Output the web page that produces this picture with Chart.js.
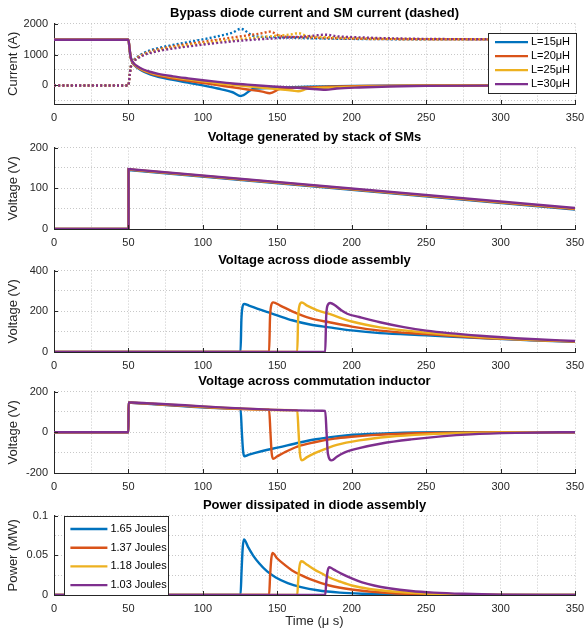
<!DOCTYPE html>
<html>
<head>
<meta charset="utf-8">
<script src="https://cdn.jsdelivr.net/npm/chart.js@4.4.1/dist/chart.umd.min.js"></script>
<style>
  body { margin: 0; background: #fff; }
  #wrap { position: relative; width: 584px; height: 631px; overflow: hidden; }
  .panel { position: absolute; left: 0; width: 584px; }
</style>
</head>
<body>
<div id="wrap">
  <div class="panel" id="p1"><canvas id="c1"></canvas></div>
  <div class="panel" id="p2"><canvas id="c2"></canvas></div>
  <div class="panel" id="p3"><canvas id="c3"></canvas></div>
  <div class="panel" id="p4"><canvas id="c4"></canvas></div>
  <div class="panel" id="p5"><canvas id="c5"></canvas></div>
</div>
<script>
// --- datos ---
const timeTicks = [0, 25, 50, 75, 100, 125, 150, 175, 200, 225, 250, 275, 300, 325, 350];
const timeLabels = [0, 50, 100, 150, 200, 250, 300, 350];

const inductance = ['L=15\u03bcH', 'L=20\u03bcH', 'L=25\u03bcH', 'L=30\u03bcH'];
const energy = ['1.65 Joules', '1.37 Joules', '1.18 Joules', '1.03 Joules'];
const colors = ['#0072BD', '#D95319', '#EDB120', '#7E2F8E'];

const currentTicks = [-500, 0, 500, 1000, 1500, 2000];
const currentLabels = [0, 1000, 2000];
const stackTicks = [0, 50, 100, 150, 200];
const stackLabels = [0, 100, 200];
const diodeVTicks = [0, 100, 200, 300, 400];
const diodeVLabels = [0, 200, 400];
const indTicks = [-200, -100, 0, 100, 200];
const indLabels = [-200, 0, 200];
const powerTicks = [0, 0.025, 0.05, 0.075, 0.1];
const powerLabels = [0, 0.05, 0.1];

// corriente diodo bypass (A), [t, valor]
const iDiode = [
  [[0,1480],[50,1480],[50.8,1150],[51.5,900],[52.5,760],[54,650],[56,570],[60,450],[65,350],[70,280],[80,180],[90,90],[100,0],[110,-100],[120,-220],[125.5,-340],[134,-110],[150,-70],[170,-40],[200,-15],[250,-3],[350,0]],
  [[0,1480],[50,1480],[50.8,1160],[51.5,910],[52.5,770],[54,665],[56,590],[60,475],[65,385],[70,320],[80,225],[90,150],[100,80],[110,10],[120,-60],[130,-130],[140,-200],[145,-250],[152,-110],[165,-70],[185,-40],[210,-15],[260,-3],[350,0]],
  [[0,1480],[50,1480],[50.8,1170],[51.5,920],[52.5,780],[54,680],[56,605],[60,495],[65,410],[70,350],[80,265],[90,195],[100,130],[110,70],[120,20],[130,-30],[140,-75],[150,-120],[160,-165],[164,-190],[170,-110],[185,-70],[205,-40],[230,-15],[280,-3],[350,0]],
  [[0,1480],[50,1480],[50.8,1180],[51.5,930],[52.5,790],[54,695],[56,620],[60,515],[65,435],[70,375],[80,295],[90,230],[100,170],[110,115],[120,65],[130,25],[140,-10],[150,-40],[160,-70],[170,-100],[182.5,-140],[190,-100],[205,-65],[225,-35],[250,-15],[300,-3],[350,0]]
];

// corriente SM (A), punteada
const iSM = [
  [[0,0],[50,0],[50.8,340],[51.5,590],[52.5,730],[54,840],[56,920],[60,1040],[65,1140],[70,1210],[80,1310],[90,1400],[100,1490],[110,1590],[120,1710],[125.5,1830],[134,1600],[150,1560],[170,1530],[200,1505],[250,1493],[350,1490]],
  [[0,0],[50,0],[50.8,330],[51.5,580],[52.5,720],[54,825],[56,900],[60,1015],[65,1105],[70,1170],[80,1265],[90,1340],[100,1410],[110,1480],[120,1550],[130,1620],[140,1690],[145,1740],[152,1600],[165,1560],[185,1530],[210,1505],[260,1493],[350,1490]],
  [[0,0],[50,0],[50.8,320],[51.5,570],[52.5,710],[54,810],[56,885],[60,995],[65,1080],[70,1140],[80,1225],[90,1295],[100,1360],[110,1420],[120,1470],[130,1520],[140,1565],[150,1610],[160,1655],[164,1690],[170,1600],[185,1560],[205,1530],[230,1505],[280,1493],[350,1490]],
  [[0,0],[50,0],[50.8,310],[51.5,560],[52.5,700],[54,795],[56,870],[60,975],[65,1055],[70,1115],[80,1195],[90,1260],[100,1320],[110,1375],[120,1425],[130,1465],[140,1500],[150,1530],[160,1560],[170,1590],[182.5,1640],[190,1590],[205,1555],[225,1525],[250,1505],[300,1493],[350,1490]]
];

// tension del stack de SMs (V)
const vStack = [
  [[0,0],[50,0],[50.1,145],[350,48]],
  [[0,0],[50,0],[50.1,146],[350,49]],
  [[0,0],[50,0],[50.1,146.5],[350,50]],
  [[0,0],[50,0],[50.1,147],[350,51.5]]
];

// tension en el conjunto de diodos (V)
const vDiode = [
  [[0,0],[125.3,0],[125.9,160],[126.6,220],[127.8,236],[131,228],[138,209],[145,192],[150,180],[160,156],[172,135],[185,121],[200,106],[219,93],[250,82],[286,68],[320,58],[350,50]],
  [[0,0],[144.5,0],[145.1,165],[145.8,225],[147.2,244],[152,228],[160,200],[172,166],[185,146],[200,125],[219,105],[250,88],[286,70],[320,59],[350,51]],
  [[0,0],[163.4,0],[164,165],[164.8,225],[166.4,243],[170,228],[177,205],[185,187],[200,150],[219,121],[250,95],[286,73],[320,60],[350,52]],
  [[0,0],[182.2,0],[182.8,165],[183.6,225],[185.6,241],[189,228],[193,205],[197,188],[205,172],[219,146],[235,122],[250,105],[286,80],[320,64],[350,54]]
];

// tension en la inductancia de conmutacion (V)
const vInd = [
  [[0,0],[50,0],[50.1,146],[52,145.4],[123.5,116.6],[125.3,116],[126.2,0],[127,-90],[127.8,-118],[131,-110],[140,-92],[151,-74],[165,-50],[176,-34],[190,-20],[201,-12],[226,-4],[260,0],[350,0]],
  [[0,0],[50,0],[50.1,146],[52,145.4],[142.5,111.6],[144.5,111],[145.4,0],[146.2,-100],[147.2,-130],[150,-118],[155,-98],[163.5,-70],[175,-49],[188.5,-31],[200,-22],[213.6,-14],[238.6,-6],[263.6,-2],[300,0],[350,0]],
  [[0,0],[50,0],[50.1,146.5],[52,145.9],[161.5,108.6],[163.4,108],[164.3,0],[165.2,-105],[166.5,-138],[170,-122],[176,-100],[183,-80],[190,-62],[205,-40],[225,-22],[250,-10],[280,-3],[320,0],[350,0]],
  [[0,0],[50,0],[50.1,147],[52,146.4],[180.3,105.6],[182.2,105],[183.1,0],[184,-105],[186.5,-138],[190,-120],[195,-100],[205,-78],[220,-55],[240,-35],[260,-20],[280,-10],[310,-3],[340,0],[350,0]]
];

// potencia disipada (MW)
const pDiode = [
  [[0,0],[125.3,0],[126,0.03],[126.8,0.06],[127.6,0.070],[130.5,0.060],[133.7,0.050],[137.8,0.040],[143,0.030],[149,0.022],[157,0.015],[166,0.010],[177,0.006],[192,0.003],[208,0.0015],[230,0.0005],[260,0],[350,0]],
  [[0,0],[144.5,0],[145.2,0.025],[146,0.046],[146.8,0.053],[150,0.046],[155,0.038],[160,0.031],[166,0.025],[172,0.020],[185,0.012],[200,0.007],[225,0.0025],[250,0.0008],[280,0],[350,0]],
  [[0,0],[163.4,0],[164.1,0.02],[165,0.037],[166.3,0.0425],[170,0.038],[175,0.032],[180,0.027],[185,0.022],[192,0.017],[200,0.012],[212,0.0075],[225,0.0048],[250,0.0018],[280,0.0004],[310,0],[350,0]],
  [[0,0],[182.2,0],[182.9,0.016],[183.8,0.03],[185,0.035],[188,0.032],[193,0.027],[200,0.021],[207,0.016],[215,0.012],[225,0.0085],[240,0.005],[255,0.003],[275,0.0015],[300,0.0005],[330,0],[350,0]]
];

// --- estilo ---
const FONT = "'Liberation Sans', Arial, Helvetica, sans-serif";
const INK = '#262626';
const LINE_W = 2.4;

// posicion de cada panel (px)
const panels = [
  { id: 'p1', top: 6,   height: 118, axisH: 20 },
  { id: 'p2', top: 130, height: 119, axisH: 20 },
  { id: 'p3', top: 253, height: 119, axisH: 20 },
  { id: 'p4', top: 374, height: 119, axisH: 20 },
  { id: 'p5', top: 498, height: 133, axisH: 36 }
];

const toXY = pts => pts.map(p => ({ x: p[0], y: p[1] }));

// marcas de eje hacia adentro (estilo MATLAB)
function innerTicks(xVals, yVals) {
  return {
    id: 'innerTicks',
    afterDraw(chart) {
      const { ctx, chartArea: a, scales: { x, y } } = chart;
      ctx.save();
      ctx.strokeStyle = INK;
      ctx.lineWidth = 1;
      ctx.beginPath();
      xVals.forEach(v => {
        const px = Math.round(x.getPixelForValue(v)) + 0.5;
        ctx.moveTo(px, a.bottom);
        ctx.lineTo(px, a.bottom - 4);
      });
      yVals.forEach(v => {
        const py = Math.round(y.getPixelForValue(v)) + 0.5;
        ctx.moveTo(a.left, py);
        ctx.lineTo(a.left + 4, py);
      });
      ctx.stroke();
      ctx.restore();
    }
  };
}

// leyenda con caja dentro del area del grafico
function boxLegend(cfg) {
  return {
    id: 'boxLegend',
    afterDraw(chart) {
      const { ctx, chartArea: a } = chart;
      const left = cfg.side === 'right' ? a.right - cfg.w + cfg.dx : a.left + cfg.dx;
      const top = a.top + cfg.dy;
      const h = cfg.h || (a.bottom - a.top - cfg.dy);
      ctx.save();
      ctx.fillStyle = '#fff';
      ctx.fillRect(left, top, cfg.w, h);
      ctx.strokeStyle = INK;
      ctx.lineWidth = 1;
      ctx.strokeRect(Math.round(left) + 0.5, Math.round(top) + 0.5, cfg.w, Math.round(h));
      ctx.font = '11px ' + FONT;
      ctx.textBaseline = 'middle';
      cfg.labels.forEach((lab, i) => {
        const yy = top + cfg.rowStart + i * cfg.rowStep;
        ctx.strokeStyle = cfg.colors[i];
        ctx.lineWidth = LINE_W;
        ctx.beginPath();
        ctx.moveTo(left + cfg.sampleX, yy);
        ctx.lineTo(left + cfg.sampleX + cfg.sampleLen, yy);
        ctx.stroke();
        ctx.fillStyle = '#000';
        ctx.fillText(lab, left + cfg.textX, yy);
      });
      ctx.restore();
    }
  };
}

function makeChart(canvasId, p, o) {
  return new Chart(document.getElementById(canvasId), {
    type: 'line',
    data: { datasets: o.datasets },
    options: {
      responsive: true,
      maintainAspectRatio: false,
      animation: false,
      layout: { padding: { left: 0, right: 0, top: 0, bottom: 0 } },
      elements: { point: { radius: 0 }, line: { cubicInterpolationMode: o.straight ? 'default' : 'monotone', tension: 0 } },
      plugins: {
        legend: { display: false },
        tooltip: { enabled: false },
        title: {
          display: true,
          text: o.title,
          fullSize: false,
          color: '#000',
          font: { family: FONT, size: 13, weight: 'bold', lineHeight: 1.2 },
          padding: { top: 0, bottom: 2 }
        }
      },
      scales: {
        x: {
          type: 'linear',
          min: 0,
          max: 350,
          afterBuildTicks: s => { s.ticks = timeTicks.map(v => ({ value: v })); },
          afterFit: s => { s.height = p.axisH; s.paddingLeft = 0; s.paddingRight = 9; },
          ticks: {
            autoSkip: false,
            maxRotation: 0,
            padding: 7,
            color: INK,
            font: { family: FONT, size: 11 },
            callback: v => timeLabels.includes(v) ? String(v) : ''
          },
          grid: { color: '#c8c8c8', lineWidth: 1, drawTicks: false },
          border: { display: true, color: INK, width: 1, dash: [1, 2] },
          title: {
            display: !!o.xTitle,
            text: o.xTitle || '',
            color: INK,
            font: { family: FONT, size: 13 },
            padding: { top: 0, bottom: 2 }
          }
        },
        y: {
          min: o.yMin,
          max: o.yMax,
          afterBuildTicks: s => { s.ticks = o.yTicks.map(v => ({ value: v })); },
          afterFit: s => { s.width = 54; },
          ticks: {
            autoSkip: false,
            padding: 6,
            color: INK,
            font: { family: FONT, size: 11 },
            callback: v => o.yLabels.includes(v) ? String(v) : ''
          },
          grid: { color: '#c8c8c8', lineWidth: 1, drawTicks: false },
          border: { display: true, color: INK, width: 1, dash: [1, 2] },
          title: {
            display: true,
            text: o.yTitle,
            color: INK,
            font: { family: FONT, size: 13 },
            padding: { top: 6, bottom: 0 }
          }
        }
      }
    },
    plugins: [innerTicks(timeLabels, o.yLabels)].concat(o.legend ? [boxLegend(o.legend)] : [])
  });
}

function solidSets(series) {
  return series.map((s, i) => ({
    data: toXY(s),
    borderColor: colors[i],
    borderWidth: LINE_W,
    order: 3 - i
  }));
}

// --- armado ---
panels.forEach(p => {
  const el = document.getElementById(p.id);
  el.style.top = p.top + 'px';
  el.style.height = p.height + 'px';
});

const dashedSM = iSM.map((s, i) => ({
  data: toXY(s),
  borderColor: colors[i],
  borderWidth: LINE_W,
  borderDash: [2, 2.2],
  order: 7 - i
}));

makeChart('c1', panels[0], {
  title: 'Bypass diode current and SM current (dashed)',
  yTitle: 'Current (A)',
  yMin: -600, yMax: 2000,
  yTicks: currentTicks, yLabels: currentLabels,
  datasets: solidSets(iDiode).concat(dashedSM),
  legend: {
    side: 'right', dx: 1, dy: 9.5, w: 88, h: 60,
    rowStart: 9, rowStep: 14, sampleX: 7, sampleLen: 33, textX: 43,
    labels: inductance, colors: colors
  }
});

makeChart('c2', panels[1], {
  title: 'Voltage generated by stack of SMs',
  yTitle: 'Voltage (V)',
  yMin: 0, yMax: 200,
  yTicks: stackTicks, yLabels: stackLabels,
  straight: true,
  datasets: solidSets(vStack)
});

makeChart('c3', panels[2], {
  title: 'Voltage across diode assembly',
  yTitle: 'Voltage (V)',
  yMin: 0, yMax: 400,
  yTicks: diodeVTicks, yLabels: diodeVLabels,
  datasets: solidSets(vDiode)
});

makeChart('c4', panels[3], {
  title: 'Voltage across commutation inductor',
  yTitle: 'Voltage (V)',
  yMin: -200, yMax: 200,
  yTicks: indTicks, yLabels: indLabels,
  datasets: solidSets(vInd)
});

makeChart('c5', panels[4], {
  title: 'Power dissipated in diode assembly',
  yTitle: 'Power (MW)',
  xTitle: 'Time (\u03bc s)',
  yMin: 0, yMax: 0.1,
  yTicks: powerTicks, yLabels: powerLabels,
  datasets: solidSets(pDiode),
  legend: {
    side: 'left', dx: 10.4, dy: 0, w: 104, h: 0,
    rowStart: 13.4, rowStep: 18.7, sampleX: 6, sampleLen: 37, textX: 46,
    labels: energy, colors: colors
  }
});
</script>
</body>
</html>
